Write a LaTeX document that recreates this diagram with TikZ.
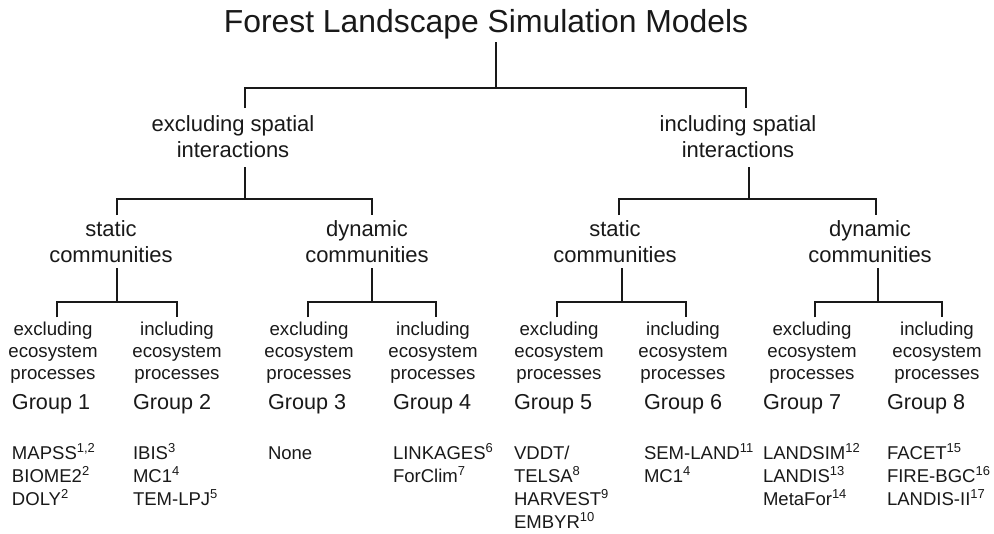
\documentclass[tikz,border=0pt]{standalone}
\usepackage{fontspec}
\setmainfont{Liberation Sans}
\usetikzlibrary{calc}
\begin{document}
\begin{tikzpicture}[x=0.75pt,y=-0.75pt,
  every node/.style={inner sep=0pt,outer sep=0pt,text=black!90},
  ttl/.style={font=\fontsize{23.9}{28}\selectfont,anchor=base},
  lvl/.style={font=\fontsize{16.5}{19.5}\selectfont,align=center,anchor=base},
  eco/.style={font=\fontsize{14}{16.5}\selectfont,align=center,anchor=base},
  grp/.style={font=\fontsize{16.2}{19}\selectfont,anchor=base west},
  mdl/.style={font=\fontsize{13.9}{17.25}\selectfont,align=left,anchor=base west},
  tree/.style={line width=1.2pt,draw=black!90}]
\useasboundingbox (0,0) rectangle (994,533);
\fill[white] (0,0) rectangle (994,533);

% title
\node[ttl] (title) at (486,32) {Forest Landscape Simulation Models};

% level 1 (positions give the baseline of the last line)
\node[lvl] (exs) at (233,157) {excluding spatial\\interactions};
\node[lvl] (ins) at (738,157) {including spatial\\interactions};

% level 2
\node[lvl] (st1) at (111,262) {static\\communities};
\node[lvl] (dy1) at (367,262) {dynamic\\communities};
\node[lvl] (st2) at (615,262) {static\\communities};
\node[lvl] (dy2) at (870,262) {dynamic\\communities};

% level 3
\node[eco] (e1) at (53,379) {excluding\\ecosystem\\processes};
\node[eco] (e2) at (177,379) {including\\ecosystem\\processes};
\node[eco] (e3) at (309,379) {excluding\\ecosystem\\processes};
\node[eco] (e4) at (433,379) {including\\ecosystem\\processes};
\node[eco] (e5) at (559,379) {excluding\\ecosystem\\processes};
\node[eco] (e6) at (683,379) {including\\ecosystem\\processes};
\node[eco] (e7) at (812,379) {excluding\\ecosystem\\processes};
\node[eco] (e8) at (937,379) {including\\ecosystem\\processes};

% groups
\node[grp] (g1) at (12,409) {Group 1};
\node[grp] (g2) at (133,409) {Group 2};
\node[grp] (g3) at (268,409) {Group 3};
\node[grp] (g4) at (393,409) {Group 4};
\node[grp] (g5) at (514,409) {Group 5};
\node[grp] (g6) at (644,409) {Group 6};
\node[grp] (g7) at (763,409) {Group 7};
\node[grp] (g8) at (887,409) {Group 8};

% model lists (positions give the baseline of the last line)
\node[mdl] (m1) at (12,505) {MAPSS\textsuperscript{1,2}\\BIOME2\textsuperscript{2}\\DOLY\textsuperscript{2}};
\node[mdl] (m2) at (133,505) {IBIS\textsuperscript{3}\\MC1\textsuperscript{4}\\TEM-LPJ\textsuperscript{5}};
\node[mdl] (m3) at (268,459) {None};
\node[mdl] (m4) at (393,482) {LINKAGES\textsuperscript{6}\\ForClim\textsuperscript{7}};
\node[mdl] (m5) at (514,528) {VDDT/\\TELSA\textsuperscript{8}\\HARVEST\textsuperscript{9}\\EMBYR\textsuperscript{10}};
\node[mdl] (m6) at (644,482) {SEM-LAND\textsuperscript{11}\\MC1\textsuperscript{4}};
\node[mdl] (m7) at (763,505) {LANDSIM\textsuperscript{12}\\LANDIS\textsuperscript{13}\\MetaFor\textsuperscript{14}};
\node[mdl] (m8) at (887,505) {FACET\textsuperscript{15}\\FIRE-BGC\textsuperscript{16}\\LANDIS-II\textsuperscript{17}};

% junction coordinates
\coordinate (j0) at (496,88);
\coordinate (j0l) at (245,88);
\coordinate (j0r) at (746,88);
\coordinate (j1) at (245,199);
\coordinate (j1l) at (117,199);
\coordinate (j1r) at (372,199);
\coordinate (j2) at (749,199);
\coordinate (j2l) at (619,199);
\coordinate (j2r) at (876,199);
\coordinate (k1) at (117,302);
\coordinate (k1l) at (57,302);
\coordinate (k1r) at (177,302);
\coordinate (k2) at (372,302);
\coordinate (k2l) at (308,302);
\coordinate (k2r) at (436,302);
\coordinate (k3) at (622,302);
\coordinate (k3l) at (557,302);
\coordinate (k3r) at (686,302);
\coordinate (k4) at (878,302);
\coordinate (k4l) at (815,302);
\coordinate (k4r) at (942,302);

% connectors
\draw[tree] ($(title.south -| j0)+(0,3.5)$) -- (j0);
\draw[tree] ($(exs.north -| j0l)+(0,-7)$) -- (j0l) -- (j0r) -- ($(ins.north -| j0r)+(0,-7)$);

\draw[tree] ($(exs.south -| j1)+(0,10)$) -- (j1);
\draw[tree] ($(st1.north -| j1l)+(0,-5)$) -- (j1l) -- (j1r) -- ($(dy1.north -| j1r)+(0,-5)$);
\draw[tree] ($(ins.south -| j2)+(0,10)$) -- (j2);
\draw[tree] ($(st2.north -| j2l)+(0,-5)$) -- (j2l) -- (j2r) -- ($(dy2.north -| j2r)+(0,-5)$);

\draw[tree] ($(st1.south -| k1)+(0,6)$) -- (k1);
\draw[tree] ($(e1.north -| k1l)+(0,-4)$) -- (k1l) -- (k1r) -- ($(e2.north -| k1r)+(0,-4)$);
\draw[tree] ($(dy1.south -| k2)+(0,6)$) -- (k2);
\draw[tree] ($(e3.north -| k2l)+(0,-4)$) -- (k2l) -- (k2r) -- ($(e4.north -| k2r)+(0,-4)$);
\draw[tree] ($(st2.south -| k3)+(0,6)$) -- (k3);
\draw[tree] ($(e5.north -| k3l)+(0,-4)$) -- (k3l) -- (k3r) -- ($(e6.north -| k3r)+(0,-4)$);
\draw[tree] ($(dy2.south -| k4)+(0,6)$) -- (k4);
\draw[tree] ($(e7.north -| k4l)+(0,-4)$) -- (k4l) -- (k4r) -- ($(e8.north -| k4r)+(0,-4)$);
\end{tikzpicture}
\end{document}
